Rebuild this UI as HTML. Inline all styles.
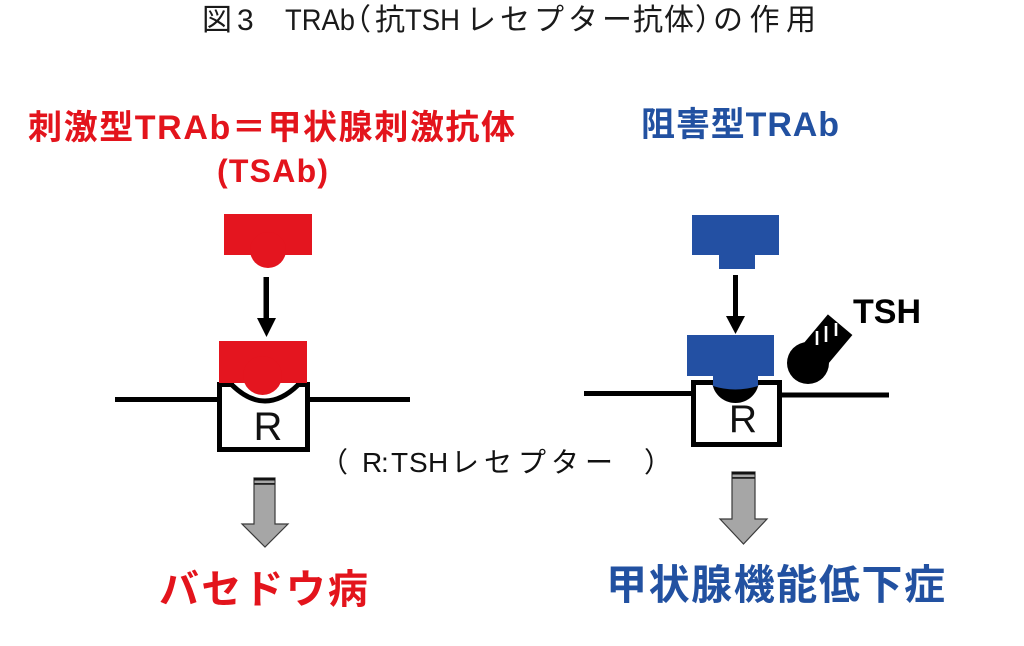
<!DOCTYPE html>
<html>
<head>
<meta charset="utf-8">
<style>
  html, body { margin:0; padding:0; background:#ffffff; }
  body { width:1024px; height:646px; overflow:hidden; }
  svg { display:block; }
  .jp { font-family: "Liberation Sans", "Noto Sans CJK JP", sans-serif; }
</style>
</head>
<body>
<svg width="1024" height="646" viewBox="0 0 1024 646" xmlns="http://www.w3.org/2000/svg">
  <rect x="0" y="0" width="1024" height="646" fill="#ffffff"/>

  <!-- Title -->
  <g class="jp" font-size="30" fill="#1a1a1a">
    <text x="202" y="30">図</text>
    <text x="237" y="30">3</text>
    <text x="285" y="30" textLength="70" lengthAdjust="spacingAndGlyphs">TRAb</text>
    <text x="341" y="30">（</text>
    <text x="375" y="30">抗</text>
    <text x="405" y="30" textLength="55" lengthAdjust="spacingAndGlyphs">TSH</text>
    <text x="466" y="30" textLength="166" lengthAdjust="spacing">レセプター</text>
    <text x="633" y="30" textLength="61" lengthAdjust="spacing">抗体</text>
    <text x="695" y="30">）</text>
    <text x="713" y="30" textLength="103" lengthAdjust="spacing">の作用</text>
  </g>

  <!-- Headers -->
  <text class="jp" x="28" y="139" font-size="34" font-weight="bold" fill="#e3141c" textLength="487" lengthAdjust="spacing">刺激型TRAb＝甲状腺刺激抗体</text>
  <text class="jp" x="217" y="182" font-size="32" font-weight="bold" fill="#e3141c" textLength="111" lengthAdjust="spacing">(TSAb)</text>
  <text class="jp" x="641" y="136" font-size="34" font-weight="bold" fill="#2251a1" textLength="198" lengthAdjust="spacing">阻害型TRAb</text>

  <!-- ========== LEFT DIAGRAM ========== -->
  <rect x="224" y="214" width="88" height="41" fill="#e4151f"/>
  <circle cx="268" cy="250" r="18" fill="#e4151f"/>
  <rect x="263.5" y="277" width="5.5" height="43" fill="#000"/>
  <polygon points="257,318 276,318 266.5,337" fill="#000"/>

  <line x1="115" y1="399.5" x2="219" y2="399.5" stroke="#000" stroke-width="5"/>
  <line x1="308" y1="399.5" x2="410" y2="399.5" stroke="#000" stroke-width="5"/>
  <path d="M234,384.5 H219.5 V449.5 H307.5 V384.5 H296" fill="none" stroke="#000" stroke-width="5"/>
  <path d="M232,385 Q265,417 298,385" fill="none" stroke="#000" stroke-width="5"/>
  <rect x="219" y="341" width="88" height="42" fill="#e4151f"/>
  <circle cx="262.5" cy="375.5" r="19.5" fill="#e4151f"/>
  <text x="268" y="440" font-family="Liberation Sans, sans-serif" font-size="40" fill="#111" text-anchor="middle">R</text>

  <!-- ========== RIGHT DIAGRAM ========== -->
  <rect x="692" y="215" width="87" height="40" fill="#2350a3"/>
  <rect x="719" y="254" width="36" height="15" fill="#2350a3"/>
  <rect x="733" y="275" width="5" height="43" fill="#000"/>
  <polygon points="726,316 745,316 735.5,334" fill="#000"/>

  <line x1="584" y1="393.5" x2="692" y2="393.5" stroke="#000" stroke-width="5"/>
  <line x1="781" y1="395" x2="889" y2="395" stroke="#000" stroke-width="5"/>
  <path d="M714,382.5 H693.5 V444.5 H779.5 V382.5 H757" fill="none" stroke="#000" stroke-width="5"/>
  <path d="M712,380 A23.5,23 0 0 0 759,380 Z" fill="#000"/>
  <rect x="687" y="335" width="87" height="41" fill="#2350a3"/>
  <path d="M713,375 V386 Q735,393 758,386 V375 Z" fill="#2350a3"/>
  <text x="743" y="432" font-family="Liberation Sans, sans-serif" font-size="39" fill="#111" text-anchor="middle">R</text>

  <!-- TSH molecule -->
  <defs>
    <clipPath id="tshclip">
      <rect x="0" y="-16" width="50" height="32" transform="translate(808,363) rotate(-50)"/>
    </clipPath>
  </defs>
  <circle cx="808" cy="363" r="21" fill="#000"/>
  <rect x="0" y="-16" width="50" height="32" fill="#000" transform="translate(808,363) rotate(-50)"/>
  <g clip-path="url(#tshclip)" stroke="#fff" stroke-width="2.6">
    <line x1="817" y1="331" x2="817" y2="345"/>
    <line x1="826" y1="326" x2="826" y2="342"/>
    <line x1="836" y1="323" x2="836" y2="336"/>
  </g>
  <text x="853" y="323" font-family="Liberation Sans, sans-serif" font-size="34" font-weight="bold" fill="#000" textLength="68" lengthAdjust="spacingAndGlyphs">TSH</text>

  <!-- Center label -->
  <g class="jp" font-size="28" fill="#111">
    <text x="320" y="472">（</text>
    <text x="362" y="472">R</text>
    <text x="381" y="472">:</text>
    <text x="391" y="472">T</text>
    <text x="409" y="472">S</text>
    <text x="428" y="472">H</text>
    <text x="451" y="472">レ</text>
    <text x="484" y="472">セ</text>
    <text x="518" y="472">プ</text>
    <text x="551" y="472">タ</text>
    <text x="585" y="472">ー</text>
    <text x="644" y="472">）</text>
  </g>

  <!-- Gray down arrows -->
  <path d="M254,478 H275 V524 H288 L265,547 L242,524 H254 Z" fill="#a6a6a6" stroke="#3a3a3a" stroke-width="1.2"/>
  <rect x="254" y="478" width="21" height="2.5" fill="#111"/>
  <rect x="254" y="483" width="21" height="1.8" fill="#222"/>

  <path d="M732,472 H755 V519 H767 L743.5,544 L720,519 H732 Z" fill="#a6a6a6" stroke="#3a3a3a" stroke-width="1.2"/>
  <rect x="732" y="472" width="23" height="2.5" fill="#111"/>
  <rect x="732" y="477" width="23" height="1.8" fill="#222"/>

  <!-- Results -->
  <text class="jp" x="159" y="603" font-size="40" font-weight="bold" fill="#e3141c" textLength="209" lengthAdjust="spacing">バセドウ病</text>
  <text class="jp" x="606" y="599" font-size="41" font-weight="bold" fill="#2251a1" textLength="339" lengthAdjust="spacing">甲状腺機能低下症</text>
</svg>
</body>
</html>
